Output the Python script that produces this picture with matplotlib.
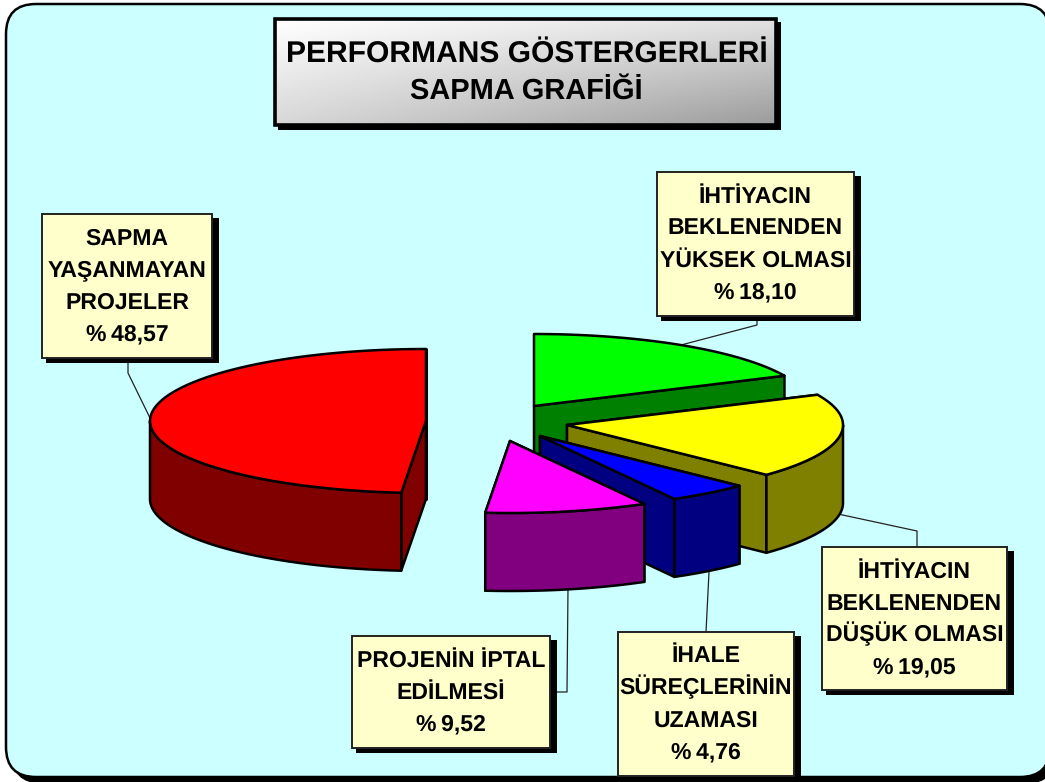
# -*- coding: utf-8 -*-
import numpy as np
import matplotlib
import matplotlib.pyplot as plt
from matplotlib.patches import FancyBboxPatch, Polygon, Rectangle

matplotlib.use('agg')

plt.rcParams['font.family'] = ['Liberation Sans', 'DejaVu Sans']
plt.rcParams['text.hinting'] = 'no_hinting'
plt.rcParams['text.hinting_factor'] = 1

# data, clockwise from 12 o'clock
names = ['İHTİYACIN\nBEKLENENDEN\nYÜKSEK OLMASI',
         'İHTİYACIN\nBEKLENENDEN\nDÜŞÜK OLMASI',
         'İHALE\nSÜREÇLERİNİN\nUZAMASI',
         'PROJENİN İPTAL\nEDİLMESİ',
         'SAPMA\nYAŞANMAYAN\nPROJELER']
shares = [18.10, 19.05, 4.76, 9.52, 48.57]
title_lines = ['PERFORMANS GÖSTERGERLERİ', 'SAPMA GRAFİĞİ']

top_colors = ['#00ff00', '#ffff00', '#0000ff', '#ff00ff', '#ff0000']
side_colors = ['#008000', '#808000', '#000080', '#800080', '#800000']

# pie layout in pixels
cx, cy = 490, 422
rx, ry = 276, 72
depth = 78
shift = [(44, -16), (77, 3), (50, 14), (20, 19), (-64, -1)]
draw_order = [4, 0, 1, 2, 3]

# label boxes: left, top, right, bottom
boxes = [(657, 172, 854, 316), (822, 547, 1007, 690), (618, 632, 794, 776),
         (352, 636, 550, 748), (42, 214, 212, 358)]
leaders = [[(757, 316), (757, 325), (681, 345)],
           [(917, 547), (917, 531), (838, 514)],
           [(706, 632), (709, 572)],
           [(550, 692), (567, 692), (568, 588)],
           [(128, 358), (128, 373), (150, 418)]]


def arc(apex, a0, a1, dy=0):
    t = np.radians(np.linspace(a0, a1, 80))
    return np.column_stack([apex[0] + rx*np.sin(t), apex[1] - ry*np.cos(t) + dy])


fig = plt.figure(figsize=(10.45, 7.82), dpi=100)
ax = fig.add_axes([0, 0, 1, 1])

# background panel with its shadow
ax.add_patch(FancyBboxPatch((12, 10), 1044, 773, boxstyle='round,pad=0,rounding_size=30',
                            fc='black', ec='black', zorder=1))
ax.add_patch(FancyBboxPatch((6, 4), 1044, 773, boxstyle='round,pad=0,rounding_size=30',
                            fc='#ccffff', ec='black', lw=1.8, zorder=2))

# title box
ax.add_patch(Rectangle((278, 22), 503, 108, fc='black', ec='black', lw=0, zorder=4))
u, v = np.meshgrid(np.linspace(0, 1, 120), np.linspace(0, 1, 120))
grad = (255*(1-u)*(1-v) + 225*u*(1-v) + 215*(1-u)*v + 155*u*v) / 255
ax.imshow(grad, cmap='gray', vmin=0, vmax=1, extent=(275, 776, 125, 19), aspect='auto',
          interpolation='bilinear', zorder=5)
ax.add_patch(Rectangle((275, 19), 501, 106, fc='none', ec='black', lw=2.6, zorder=6))
ax.text(526.5, 63, title_lines[0], fontsize=21.5, fontweight='bold', ha='center', va='baseline', zorder=7)
ax.text(526.5, 99, title_lines[1], fontsize=20.6, fontweight='bold', ha='center', va='baseline', zorder=7)

# leader lines
for pts in leaders:
    xs, ys = zip(*pts)
    ax.plot(xs, ys, c='#222222', lw=0.9, zorder=8)

# slices, painted back to front
angles = np.concatenate([[0], np.cumsum(shares) / np.sum(shares) * 360])
z = 10
for i in draw_order:
    a0, a1 = angles[i], angles[i+1]
    apex = (cx + shift[i][0], cy + shift[i][1])

    for a in (a0, a1):
        edge = arc(apex, a, a, 0)[0]
        face = [apex, edge, (edge[0], edge[1]+depth), (apex[0], apex[1]+depth)]
        ax.add_patch(Polygon(face, fc=side_colors[i], ec='black', lw=1.8, joinstyle='round', zorder=z))
        z += 1

    lo, hi = max(a0, 90), min(a1, 270)
    if hi > lo:
        wall = np.vstack([arc(apex, lo, hi), arc(apex, hi, lo, depth)])
        ax.add_patch(Polygon(wall, fc=side_colors[i], ec='black', lw=1.8, joinstyle='round', zorder=z))
        z += 1

    top = np.vstack([[apex], arc(apex, a0, a1)])
    ax.add_patch(Polygon(top, fc=top_colors[i], ec='black', lw=1.8, joinstyle='round', zorder=z))
    z += 1

# label boxes
for name, share, box in zip(names, shares, boxes):
    x0, y0, x1, y1 = box
    ax.add_patch(Rectangle((x0+4, y0+4), x1-x0+3, y1-y0+1, fc='black', ec='black', lw=0, zorder=40))
    ax.add_patch(Rectangle((x0, y0), x1-x0, y1-y0, fc='#ffffcc', ec='#222222', lw=1.4, zorder=41))
    lines = name.split('\n') + ['%\u2009' + f'{share:.2f}'.replace('.', ',')]
    for k, line in enumerate(lines):
        ax.text((x0+x1)/2, y0 + 30.5 + 32*k, line, fontsize=16.5, fontweight='bold',
                ha='center', va='baseline', zorder=42)

ax.set_xlim(0, 1045)
ax.set_ylim(782, 0)
ax.axis('off')

plt.savefig('out.png', dpi=100, facecolor='white')
